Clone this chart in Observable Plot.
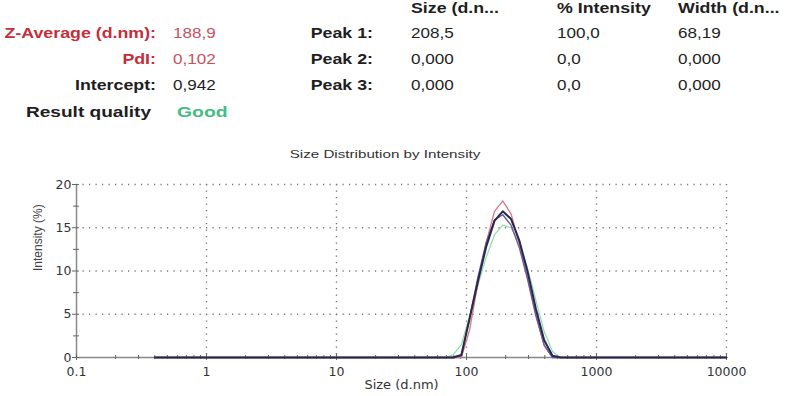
<!DOCTYPE html>
<html>
<head>
<meta charset="utf-8">
<script src="https://cdn.jsdelivr.net/npm/d3@7"></script>
<script src="https://cdn.jsdelivr.net/npm/@observablehq/plot@0.6"></script>
<style>
  html, body { margin: 0; padding: 0; background: #fff; }
  #wrap { position: relative; width: 789px; height: 396px; overflow: hidden; font-family: "Liberation Sans", Arial, sans-serif; }
  .t { position: absolute; white-space: nowrap; font-size: 14px; line-height: 16px; color: #1e1e1e; transform-origin: left center; transform: scaleX(1.22); }
  .b { font-weight: bold; transform: scaleX(1.27); }
  .r { text-align: right; transform-origin: right center; }
  .red { color: #c42e3a; }
  .redv { color: #c9505c; }
  .green { color: #44bd82; }
  #chart { position: absolute; left: 0; top: 140px; }
  #chart text.tick { font-family: "DejaVu Sans", sans-serif; font-size: 12.5px; }
  #chart text.xlab { font-family: "DejaVu Sans", sans-serif; font-size: 13px; }
  #chart text.ylab { font-size: 12px; }
</style>
</head>
<body>
<div id="wrap"></div>
<script>
// ---- data ----
const summaryLabels = ["Z-Average (d.nm):", "PdI:", "Intercept:"];
const summaryValues = ["188,9", "0,102", "0,942"];
const peakLabels = ["Peak 1:", "Peak 2:", "Peak 3:"];
const columnHeaders = ["Size (d.n...", "% Intensity", "Width (d.n..."];
const peakSizes = ["208,5", "0,000", "0,000"];
const peakIntensities = ["100,0", "0,0", "0,0"];
const peakWidths = ["68,19", "0,000", "0,000"];
const qualityLabel = "Result quality";
const qualityValue = "Good";
const chartTitle = "Size Distribution by Intensity";
const xLabel = "Size (d.nm)";
const yLabel = "Intensity (%)";

const sizes = [0.4, 0.4632, 0.5365, 0.6213, 0.7195, 0.8332, 0.9649, 1.117, 1.294, 1.499,
  1.736, 2.010, 2.328, 2.696, 3.122, 3.615, 4.187, 4.849, 5.615, 6.503,
  7.531, 8.721, 10.10, 11.70, 13.54, 15.69, 18.17, 21.04, 24.36, 28.21,
  32.67, 37.84, 43.82, 50.75, 58.77, 68.06, 78.82, 91.28, 105.7, 122.4,
  141.8, 164.2, 190.1, 220.2, 255.0, 295.3, 342.0, 396.1, 458.7, 531.2,
  615.1, 712.4, 825.0, 955.4, 1106, 1281, 1484, 1718, 1990, 2305,
  2669, 3091, 3580, 4145, 4801, 5560, 6439, 7456, 8635, 10000];

// nonzero part of each record (sizes 78.82 .. 531.2); all other classes are 0
const peakSizesNm = [78.82, 91.28, 105.7, 122.4, 141.8, 164.2, 190.1, 220.2, 255.0, 295.3, 342.0, 396.1, 458.7, 531.2];
const greenValues  = [0.3, 1.5, 4.8, 8.3, 11.6, 14.2, 15.3, 15.0, 13.3, 10.3, 6.6, 3.0, 0.7, 0];
const redValues    = [0, 0, 3.2, 8.6, 13.3, 16.9, 18.1, 16.6, 13.2, 9.2, 5.0, 1.4, 0, 0];
const purpleValues = [0, 0.2, 4.6, 9.3, 13.3, 15.9, 16.5, 15.3, 12.7, 9.0, 4.8, 1.4, 0, 0];
const blackValues  = [0, 0.3, 4.5, 8.8, 12.8, 15.8, 16.9, 16.0, 13.5, 9.9, 5.6, 2.0, 0.2, 0];

const xTicks = [0.1, 1, 10, 100, 1000, 10000];
const xTickLabels = ["0.1", "1", "10", "100", "1000", "10000"];
const xMinor = [0.2,0.3,0.4,0.5,0.6,0.7,0.8,0.9, 2,3,4,5,6,7,8,9, 20,30,40,50,60,70,80,90,
  200,300,400,500,600,700,800,900, 2000,3000,4000,5000,6000,7000,8000,9000];
const yTicks = [0, 5, 10, 15, 20];
const yMinor = [2.5, 7.5, 12.5, 17.5];

const seriesNames = ["green", "red", "purple", "black"];
const seriesValues = [greenValues, redValues, purpleValues, blackValues];
const seriesColors = ["#92dcab", "#d67888", "#6e5a9e", "#28284a"];
const seriesWidths = [1.2, 1.3, 1.4, 2];

// ---- build table ----
const rows = [];
seriesNames.forEach((name, i) => {
  sizes.forEach(s => {
    const k = peakSizesNm.indexOf(s);
    rows.push({series: name, size: s, value: k >= 0 ? seriesValues[i][k] : 0});
  });
});

// ---- header html ----
const wrap = document.getElementById("wrap");
function addText(txt, cls, left, top, width, extra) {
  const d = document.createElement("div");
  d.className = "t " + cls;
  d.textContent = txt;
  d.style.left = left + "px";
  d.style.top = top + "px";
  if (width) d.style.width = width + "px";
  if (extra) Object.assign(d.style, extra);
  wrap.appendChild(d);
  return d;
}
const rowTops = [25, 51, 77];
addText(summaryLabels[0], "b r red", 0, rowTops[0], 156);
addText(summaryLabels[1], "b r red", 0, rowTops[1], 156);
addText(summaryLabels[2], "b r", 0, rowTops[2], 156);
addText(summaryValues[0], "redv", 173, rowTops[0]);
addText(summaryValues[1], "redv", 173, rowTops[1]);
addText(summaryValues[2], "", 173, rowTops[2]);
peakLabels.forEach((p, i) => addText(p, "b r", 0, rowTops[i], 373));
const colX = [411, 557, 678];
columnHeaders.forEach((h, i) => addText(h, "b", colX[i], 0, null));
[peakSizes, peakIntensities, peakWidths].forEach((col, j) =>
  col.forEach((v, i) => addText(v, "", colX[j], rowTops[i])));
addText(qualityLabel, "b", 26, 103, null, {fontSize: "15.5px", lineHeight: "18px", transform: "scaleX(1.23)"});
addText(qualityValue, "b green", 177, 103, null, {fontSize: "15.5px", lineHeight: "18px", transform: "scaleX(1.25)"});
addText(chartTitle, "", 0, 146, 770, {textAlign: "center", fontSize: "11.5px", color: "#333", transformOrigin: "center center", transform: "scaleX(1.32)"});

// ---- chart ----
const grid = {stroke: "#777", strokeOpacity: 1, strokeWidth: 1.4, strokeDasharray: "1.2,5.3"};
const chart = Plot.plot({
  width: 789,
  height: 256,
  marginLeft: 76,
  marginRight: 63,
  marginTop: 44,
  marginBottom: 39,
  style: {fontFamily: "'Liberation Sans', Arial, sans-serif", background: "transparent", overflow: "visible"},
  x: {type: "log", domain: [0.1, 10000]},
  y: {domain: [0, 20]},
  marks: [
    Plot.gridX(xTicks.slice(1), grid),
    Plot.gridY(yTicks.slice(1), grid),
    Plot.ruleY([0], {x1: 0.1, x2: 10000, stroke: "#888", strokeWidth: 1.3}),
    Plot.ruleX([0.1], {y1: 0, y2: 20, stroke: "#888", strokeWidth: 1.5}),
    Plot.ruleX(xMinor, {x: d => d, y1: 0, y2: 0, insetTop: -2, insetBottom: -2, stroke: "#666", strokeWidth: 1}),
    Plot.ruleX(xTicks, {x: d => d, y1: 0, y2: 0, insetTop: -3, insetBottom: -3, stroke: "#666", strokeWidth: 1}),
    Plot.ruleY(yMinor, {y: d => d, x1: 0.1, x2: 0.1, insetLeft: -3, insetRight: -3, stroke: "#666", strokeWidth: 1}),
    Plot.ruleY(yTicks, {y: d => d, x1: 0.1, x2: 0.1, insetLeft: -4, insetRight: -3, stroke: "#666", strokeWidth: 1}),
    Plot.axisX(xTicks, {tickSize: 0, tickPadding: 10, tickFormat: d => xTickLabels[xTicks.indexOf(d)], fill: "#333", label: null}),
    Plot.axisY(yTicks, {tickSize: 0, tickPadding: 5, fill: "#333", label: null}),
    Plot.text([xLabel], {text: d => d, frameAnchor: "bottom", dy: 31, fill: "#333"}),
    Plot.text([yLabel], {text: d => d, frameAnchor: "left", dx: -38, rotate: -90, fill: "#444"}),
    ...seriesNames.map((name, i) => Plot.line(rows.filter(r => r.series === name), {
      x: "size", y: "value", stroke: seriesColors[i], strokeWidth: seriesWidths[i]
    }))
  ]
});
chart.id = "chart";
// classify chart texts for font styling (see CSS)
chart.querySelectorAll("text").forEach(t => {
  const s = t.textContent;
  if (s === xLabel) t.classList.add("xlab");
  else if (s === yLabel) t.classList.add("ylab");
  else t.classList.add("tick");
});
wrap.appendChild(chart);
</script>
</body>
</html>
